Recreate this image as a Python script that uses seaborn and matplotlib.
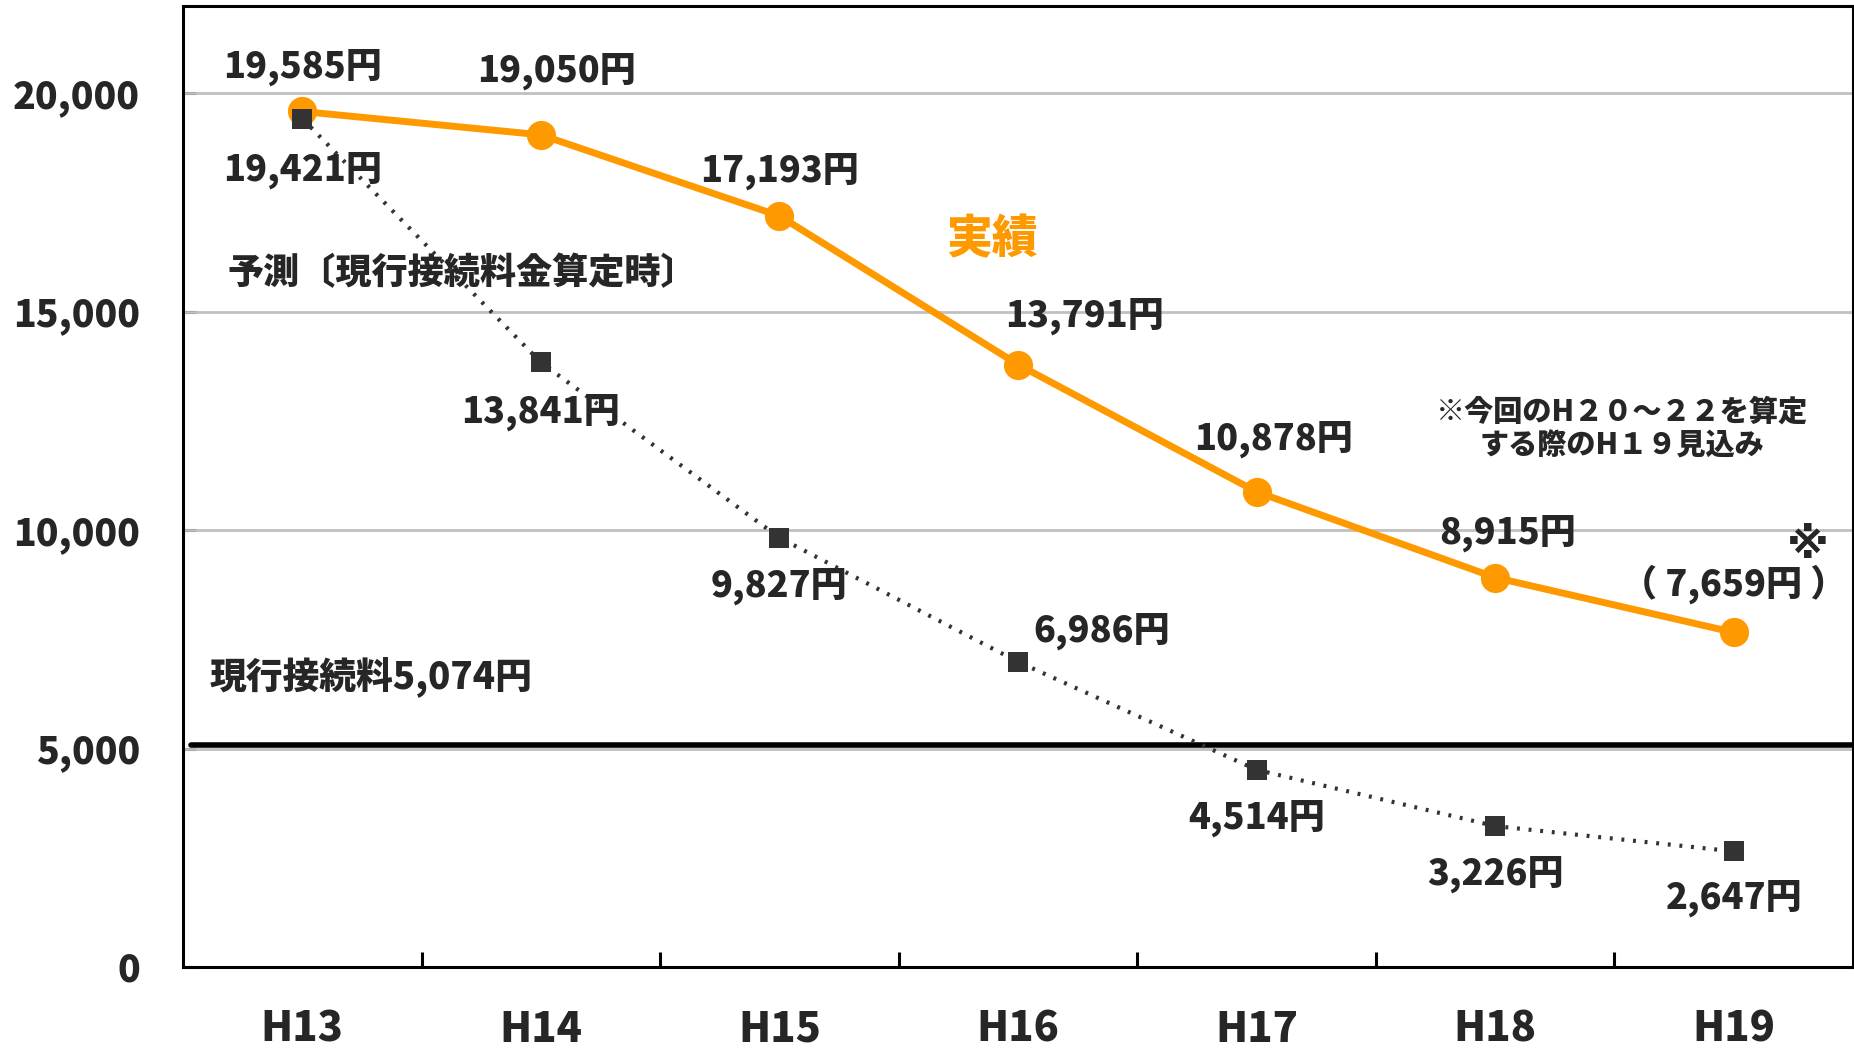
import matplotlib
matplotlib.use("Agg")
import matplotlib.pyplot as plt
import seaborn as sns
import pandas as pd

# Fiscal years (Heisei) on the category axis
years = ["H13", "H14", "H15", "H16", "H17", "H18", "H19"]
# Actual interconnection cost per line (yen)
actual = [19585, 19050, 17193, 13791, 10878, 8915, 7659]
# Forecast made when the current rate was calculated (yen)
forecast = [19421, 13841, 9827, 6986, 4514, 3226, 2647]
# Current interconnection rate (yen)
current_rate = 5074

ORANGE = "#FF9900"
DARK = "#333333"
GRID = "#C0C0C0"
W = "black"  # heaviest weight for all text

sns.set_theme(style="white")
plt.rcParams["font.family"] = ["Noto Sans CJK JP", "DejaVu Sans"]
plt.rcParams["font.weight"] = W

df = pd.DataFrame({
    "pos": list(range(len(years))) * 2,
    "value": actual + forecast,
    "series": ["実績"] * len(years) + ["予測"] * len(years),
})

fig = plt.figure(figsize=(18.54, 10.48), dpi=100)
ax = fig.add_axes([0.0987, 0.0773, 0.9008, 0.917])

# forecast: dotted line with square markers
sns.lineplot(data=df[df.series == "予測"], x="pos", y="value", ax=ax,
             color=DARK, linewidth=3.0, linestyle=(0, (0.7, 2.1)),
             marker="s", markersize=15, markeredgewidth=0,
             markerfacecolor=DARK, legend=False)
# actual: thick orange line with round markers
sns.lineplot(data=df[df.series == "実績"], x="pos", y="value", ax=ax,
             color=ORANGE, linewidth=5, marker="o", markersize=21,
             markeredgewidth=0, markerfacecolor=ORANGE, legend=False)
ax.lines[0].set_zorder(4)
ax.lines[1].set_zorder(3)

# current rate reference line
ax.axhline(current_rate, xmin=0.005, xmax=1, color="black", linewidth=4, zorder=2)

ax.set_xlim(-0.5, len(years) - 0.5)
ax.set_ylim(0, 22000)
ax.set_yticks([0, 5000, 10000, 15000, 20000])
ax.set_yticklabels([f"{v:,}" for v in [0, 5000, 10000, 15000, 20000]])
ax.set_xticks(range(len(years)))
ax.set_xticklabels(years)
ax.set_xticks([i + 0.5 for i in range(len(years) - 1)], minor=True)
ax.set_xlabel("")
ax.set_ylabel("")

for y in [5000, 10000, 15000, 20000]:
    ax.axhline(y, color=GRID, linewidth=2, zorder=1)

for s in ax.spines.values():
    s.set_color("black")
    s.set_linewidth(2.2)

ax.tick_params(axis="y", direction="in", length=9, width=2.2, color="black",
               labelsize=27, pad=31, left=True)
ax.tick_params(axis="x", which="major", length=0, labelsize=30, pad=30)
ax.tick_params(axis="x", which="minor", direction="in", length=11, width=2.2,
               color="black", bottom=True)
for lab in ax.get_xticklabels() + ax.get_yticklabels():
    lab.set_fontweight(W)

# value labels (offsets in points from each marker)
actual_off = [(0, 32), (11, 46), (0, 32), (48, 35), (12, 38), (9, 32), (0, 35)]
forecast_off = [(0, -37), (0, -36), (0, -35), (60, 22), (0, -35), (0, -35), (0, -34)]

for i, v in enumerate(actual):
    txt = f"{v:,}円" if i < len(actual) - 1 else f"（ {v:,}円 ）"
    ax.annotate(txt, (i, v), xytext=actual_off[i], textcoords="offset points",
                ha="center", va="center", fontsize=26, fontweight=W, zorder=6)
ax.annotate("※", (len(actual) - 1, actual[-1]), xytext=(53, 62),
            textcoords="offset points", ha="center", va="center",
            fontsize=31, fontweight="bold", family=["DejaVu Sans"])

for i, v in enumerate(forecast):
    ax.annotate(f"{v:,}円", (i, v), xytext=forecast_off[i], textcoords="offset points",
                ha="center", va="center", fontsize=26, fontweight=W, zorder=6)

ax.text(2.893, 16640, "実績", color=ORANGE, fontsize=33, fontweight=W,
        ha="center", va="center")
ax.text(0.67, 15883, "予測〔現行接続料金算定時〕", fontsize=26, fontweight=W,
        ha="center", va="center")
ax.text(-0.39, 6626, f"現行接続料{current_rate:,}円", fontsize=26.5, fontweight=W,
        ha="left", va="center")
ax.text(5.53, 12323, "※今回のH２０～２２を算定\nする際のH１９見込み", fontsize=21,
        fontweight=W, ha="center", va="center", linespacing=1.2)

fig.savefig("out.png", dpi=100)
